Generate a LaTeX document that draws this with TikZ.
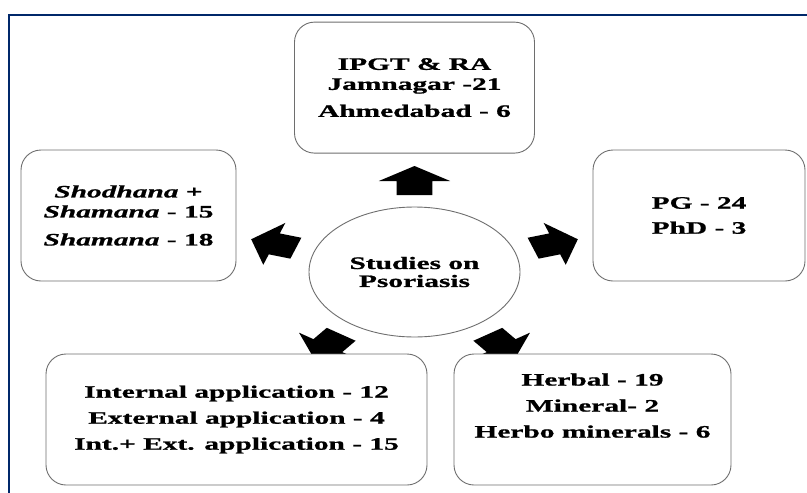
\documentclass[tikz,border=0pt]{standalone}
\usepackage{fontspec}
\setmainfont{Liberation Serif}[FakeStretch=1.68, FakeBold=1]
\definecolor{framenavy}{RGB}{0,40,106}
\definecolor{boxgray}{RGB}{110,110,110}
\usetikzlibrary{positioning, shapes.geometric}

\begin{document}
\begin{tikzpicture}[
  x=1pt, y=-1pt,
  font=\fontsize{17.5}{20}\selectfont\bfseries,
  box/.style={draw=boxgray, line width=0.9pt, rounded corners=20pt, fill=white,
              minimum height=131pt, align=center, inner sep=2pt},
  hub/.style={ellipse, draw=boxgray, line width=0.9pt, fill=white,
              minimum width=211pt, minimum height=130pt, align=center,
              font=\fontsize{17.5}{18}\selectfont\bfseries},
  blockarrow/.pic={\fill (-14,-11) -- (0,-11) -- (0,-22) -- (15,0) -- (0,22) -- (0,11) -- (-14,11) -- cycle;},
]

\useasboundingbox (0,0) rectangle (807,493);

% --- Outer frame (runs off right and bottom) ---
\draw[framenavy, line width=2.5pt] (9,15) rectangle (840,530);

% --- Centre ---
\node[hub] (hub) at (414.5,272) {Studies on\\Psoriasis};

% --- Block arrows round the centre (stretched like the rest) ---
\begin{scope}[shift={(hub.center)}, xscale=1.62, y=1pt, transform shape]
  \pic[rotate=90]  at (90:91)  {blockarrow};
  \pic[rotate=162] at (162:91) {blockarrow};
  \pic[rotate=18]  at (18:91)  {blockarrow};
  \pic[rotate=234] at (234:91) {blockarrow};
  \pic[rotate=306] at (306:91) {blockarrow};
\end{scope}

% --- Five boxes ---
\node[box, minimum width=240pt, above=53pt of hub] (centres)
  {IPGT \& RA\\Jamnagar -21\\[7pt]Ahmedabad - 6};
\node[box, minimum width=215pt] (therapy) at (128.5,215.5)
  {\textit{Shodhana} +\\\textit{Shamana} - 15\\[8pt]\textit{Shamana} - 18};
\node[box, minimum width=212pt] (degree) at (699,215.5)
  {PG - 24\\[5pt]PhD - 3};
\node[box, minimum width=381pt] (route) at (236.5,419.5)
  {Internal application - 12\\[6pt]External application - 4\\[6pt]Int.+ Ext. application - 15};
\node[box, minimum width=277pt] (drug) at (592.5,419.5)
  {Herbal - 19\\[6pt]Mineral- 2\\[6pt]Herbo minerals - 6\\[8pt]\mbox{}};

\end{tikzpicture}
\end{document}
